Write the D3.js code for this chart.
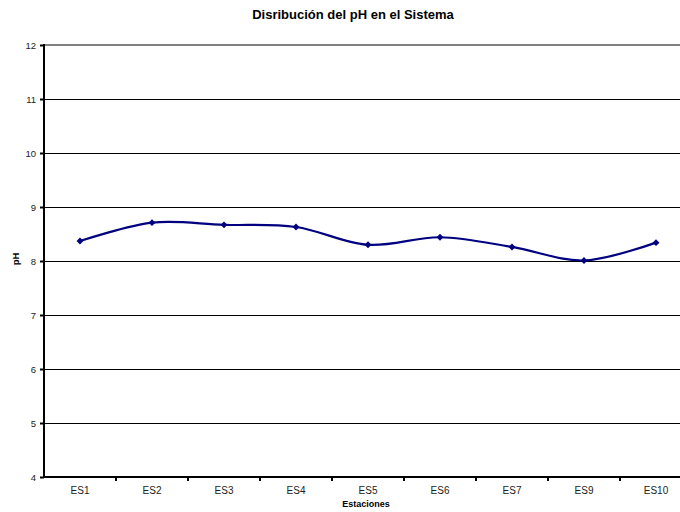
<!DOCTYPE html>
<html>
<head>
<meta charset="utf-8">
<script src="https://cdn.jsdelivr.net/npm/d3@7"></script>
<style>
  html, body { margin: 0; padding: 0; background: #fff; }
  svg { display: block; font-family: "Liberation Sans", Arial, sans-serif; }
</style>
</head>
<body>
<svg id="chart" width="680" height="512"></svg>
<script>
// Stations along the system and their measured pH
const stations = ["ES1", "ES2", "ES3", "ES4", "ES5", "ES6", "ES7", "ES9", "ES10"];
const phValues = [8.37, 8.71, 8.67, 8.63, 8.30, 8.44, 8.26, 8.01, 8.34];
const yTicks = [4, 5, 6, 7, 8, 9, 10, 11, 12];

const titleText = "Disribución del pH en el Sistema";
const xTitle = "Estaciones";
const yTitle = "pH";

const svg = d3.select("#chart");
const plotLeft = 44, plotTop = 45, plotBottom = 477;
const bandW = 72;

const x = d3.scaleBand()
  .domain(stations)
  .range([plotLeft, plotLeft + bandW * stations.length])
  .padding(0);

const y = d3.scaleLinear().domain([4, 12]).range([plotBottom, plotTop]);

const xRight = plotLeft + bandW * stations.length;

// Horizontal gridlines
svg.append("g")
  .selectAll("line")
  .data(yTicks.filter(t => t > 4 && t < 12))
  .join("line")
  .attr("x1", plotLeft).attr("x2", xRight)
  .attr("y1", d => y(d)).attr("y2", d => y(d))
  .attr("stroke", "#000").attr("stroke-width", 1)
  .attr("shape-rendering", "crispEdges");

// Top border of the plot area
svg.append("line")
  .attr("x1", plotLeft).attr("x2", xRight)
  .attr("y1", y(12)).attr("y2", y(12))
  .attr("stroke", "#808080").attr("stroke-width", 2);

// Y axis
const yAxis = d3.axisLeft(y).tickValues(yTicks).tickSize(4).tickPadding(4).tickFormat(d3.format("d"));
const gy = svg.append("g").attr("transform", `translate(${plotLeft},0)`).call(yAxis);
gy.select(".domain").remove();
gy.selectAll(".tick line").attr("stroke", "#000").attr("stroke-width", 2);
gy.selectAll(".tick text").attr("font-size", 9.5).attr("fill", "#222")
  .attr("font-family", "Liberation Sans, Arial, sans-serif");
svg.append("line")
  .attr("x1", plotLeft).attr("x2", plotLeft)
  .attr("y1", plotTop - 1).attr("y2", plotBottom + 1)
  .attr("stroke", "#000").attr("stroke-width", 2);

// X axis with ticks between categories
svg.append("line")
  .attr("x1", plotLeft).attr("x2", xRight)
  .attr("y1", plotBottom).attr("y2", plotBottom)
  .attr("stroke", "#000").attr("stroke-width", 2);
svg.append("g")
  .selectAll("line")
  .data(stations.slice(1))
  .join("line")
  .attr("x1", d => x(d)).attr("x2", d => x(d))
  .attr("y1", plotBottom).attr("y2", plotBottom + 4)
  .attr("stroke", "#000").attr("stroke-width", 2);
svg.append("g")
  .selectAll("text")
  .data(stations)
  .join("text")
  .attr("x", d => x(d) + x.bandwidth() / 2)
  .attr("y", 494)
  .attr("text-anchor", "middle")
  .attr("font-size", 10)
  .attr("fill", "#222")
  .text(d => d);

// Smoothed data line
const cx = d => x(d) + x.bandwidth() / 2;
const pts = stations.map((s, i) => [cx(s), y(phValues[i])]);
svg.append("path")
  .attr("d", d3.line().curve(d3.curveCardinal.tension(0))(pts))
  .attr("fill", "none")
  .attr("stroke", "#000080")
  .attr("stroke-width", 2.2)
  .attr("stroke-linejoin", "round");

// Diamond markers
svg.append("g")
  .selectAll("path")
  .data(pts)
  .join("path")
  .attr("transform", d => `translate(${d[0]},${d[1]})`)
  .attr("d", d3.symbol().type(d3.symbolDiamond2).size(30))
  .attr("fill", "#000080");

// Titles
svg.append("text")
  .attr("x", 353).attr("y", 19)
  .attr("text-anchor", "middle")
  .attr("font-size", 13).attr("font-weight", "bold")
  .text(titleText);

svg.append("text")
  .attr("x", 366).attr("y", 507)
  .attr("text-anchor", "middle")
  .attr("font-size", 9).attr("font-weight", "bold")
  .text(xTitle);

svg.append("text")
  .attr("transform", `translate(19,${(plotTop + plotBottom) / 2 - 2}) rotate(-90)`)
  .attr("text-anchor", "middle")
  .attr("font-size", 9.5).attr("font-weight", "bold")
  .text(yTitle);
</script>
</body>
</html>
